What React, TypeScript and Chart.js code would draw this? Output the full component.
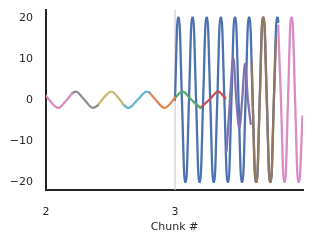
import React, { useEffect, useRef } from 'react';
import { Chart, registerables } from 'chart.js';

Chart.register(...registerables);

// ---- data ----
const xTicks = [2, 3];
const yTicks = [-20, -10, 0, 10, 20];
const chunkMarkerX = 3;

// small-amplitude chunks
const pinkAX = [2.0, 2.024, 2.093, 2.162, 2.2];
const pinkAY = [1.0, 0, -2, 0, 1.5];
const grayX = [2.2, 2.231, 2.2977, 2.3643, 2.4];
const grayY = [1.5, 2, 0, -2, -1.4];
const oliveX = [2.4, 2.4353, 2.5062, 2.5729, 2.6];
const oliveY = [-1.4, 0, 2, 0, -1.2];
const cyanX = [2.6, 2.6395, 2.7105, 2.7814, 2.8];
const cyanY = [-1.2, -2, 0, 2, 1.8];
const orangeX = [2.8, 2.85, 2.9186, 2.9884, 3.0];
const orangeY = [1.8, 0, -2, 0, 0.5];
const greenX = [3.0, 3.0581, 3.1271, 3.1961];
const greenY = [0.5, 2, 0, -2];
const redX = [3.1961, 3.2655, 3.3349, 3.39];
const redY = [-2, 0, 2, 0.4];

// large-amplitude chunks
const blueX = [3.0, 3.0212, 3.0312, 3.0536, 3.076, 3.086, 3.1084, 3.1308, 3.1408, 3.1633, 3.1857, 3.1957, 3.2181, 3.2405, 3.2505, 3.2729, 3.2953, 3.3053, 3.3277, 3.3501, 3.3601, 3.3825, 3.4049, 3.4149, 3.4374, 3.4598, 3.4698, 3.4922, 3.5146, 3.5246, 3.547, 3.5694, 3.5794, 3.6018, 3.6242, 3.6342, 3.6566, 3.679, 3.689, 3.7115, 3.7339, 3.7439, 3.7663, 3.7887, 3.7967, 3.8];
const blueY = [0, 20, 20, 0, -20, -20, 0, 20, 20, 0, -20, -20, 0, 20, 20, 0, -20, -20, 0, 20, 20, 0, -20, -20, 0, 20, 20, 0, -20, -20, 0, 20, 20, 0, -20, -20, 0, 20, 20, 0, -20, -20, 0, 20, 20, 19];
const purpleX = [3.4, 3.426, 3.452, 3.475, 3.4984, 3.5205, 3.5426, 3.565, 3.5868];
const purpleY = [-12.5, 0, 10.2, 0, -7, 0, 8.8, 0, -5.9];
const brownX = [3.595, 3.6018, 3.6242, 3.6342, 3.6566, 3.679, 3.689, 3.7115, 3.7339, 3.7439, 3.7663, 3.782];
const brownY = [9, 0, -20, -20, 0, 20, 20, 0, -20, -20, 0, 15];
const pinkBX = [3.8, 3.8211, 3.8435, 3.8535, 3.8759, 3.8983, 3.9083, 3.9307, 3.9532, 3.9632, 3.988];
const pinkBY = [18, 0, -20, -20, 0, 20, 20, 0, -20, -20, -4];

const COLORS = {
  blue: '#4C72B0', orange: '#DD8452', green: '#55A868', red: '#C44E52', purple: '#8172B3',
  brown: '#937860', pink: '#DA8BC3', gray: '#8C8C8C', olive: '#CCB974', cyan: '#64B5CD',
};

const seriesList = [
  { xs: blueX, ys: blueY, color: COLORS.blue, order: 50 },
  { xs: pinkAX, ys: pinkAY, color: COLORS.pink, order: 10 },
  { xs: grayX, ys: grayY, color: COLORS.gray, order: 10 },
  { xs: oliveX, ys: oliveY, color: COLORS.olive, order: 10 },
  { xs: cyanX, ys: cyanY, color: COLORS.cyan, order: 10 },
  { xs: orangeX, ys: orangeY, color: COLORS.orange, order: 10 },
  { xs: greenX, ys: greenY, color: COLORS.green, order: 10 },
  { xs: redX, ys: redY, color: COLORS.red, order: 10 },
  { xs: purpleX, ys: purpleY, color: COLORS.purple, order: 10 },
  { xs: brownX, ys: brownY, color: COLORS.brown, order: 10 },
  { xs: pinkBX, ys: pinkBY, color: COLORS.pink, order: 10 },
];

const FONT = { family: 'DejaVu Sans', size: 11 };
const fmt = (v: number) => (v < 0 ? '\u2212' + Math.abs(v) : String(v));

export default function App() {
  const ref = useRef<HTMLCanvasElement | null>(null);
  useEffect(() => {
    if (!ref.current) return;
    const datasets: any[] = [
      {
        data: [{ x: chunkMarkerX, y: -22 }, { x: chunkMarkerX, y: 22 }],
        borderColor: '#cccccc', borderWidth: 1.2, pointRadius: 0, order: 100,
      },
      ...seriesList.map((s) => ({
        data: s.xs.map((x, i) => ({ x, y: s.ys[i] })),
        borderColor: s.color,
        borderWidth: 2.3,
        pointRadius: 0,
        cubicInterpolationMode: 'monotone',
        order: s.order,
        borderCapStyle: 'round',
        borderJoinStyle: 'round',
      })),
    ];
    const chart = new Chart(ref.current, {
      type: 'line',
      data: { datasets },
      options: {
        animation: false,
        responsive: false,
        devicePixelRatio: 1,
        layout: { padding: { left: 0, right: 10, top: 9.5, bottom: 0 } },
        plugins: { legend: { display: false }, tooltip: { enabled: false } },
        scales: {
          x: {
            type: 'linear',
            min: 2,
            max: 3.992,
            afterBuildTicks: (scale: any) => { scale.ticks = xTicks.map((v) => ({ value: v })); },
            afterFit: (scale: any) => { scale.height = 52; scale.paddingLeft = 0; scale.paddingRight = 0; },
            grid: { display: true, color: 'rgba(0,0,0,0)', drawTicks: false },
            border: { display: true, color: '#262626', width: 2 },
            ticks: { padding: 16, color: '#262626', font: FONT, maxRotation: 0, callback: (v: any) => fmt(Number(v)) },
            title: { display: true, text: 'Chunk #', color: '#262626', font: FONT, padding: { top: 0, bottom: 8 } },
          },
          y: {
            type: 'linear',
            min: -22,
            max: 22,
            afterBuildTicks: (scale: any) => { scale.ticks = yTicks.map((v) => ({ value: v })); },
            afterFit: (scale: any) => { scale.width = 46; scale.paddingTop = 0; scale.paddingBottom = 0; },
            grid: { display: true, color: 'rgba(0,0,0,0)', drawTicks: false },
            border: { display: true, color: '#262626', width: 2 },
            ticks: { padding: 13, color: '#262626', font: FONT, callback: (v: any) => fmt(Number(v)) },
          },
        },
      } as any,
    });
    return () => chart.destroy();
  }, []);
  return (
    <div style={{ position: 'fixed', left: 0, top: 0, width: 313, height: 242, background: '#fff' }}>
      <canvas ref={ref} width={313} height={242} style={{ width: 313, height: 242 }} />
    </div>
  );
}
